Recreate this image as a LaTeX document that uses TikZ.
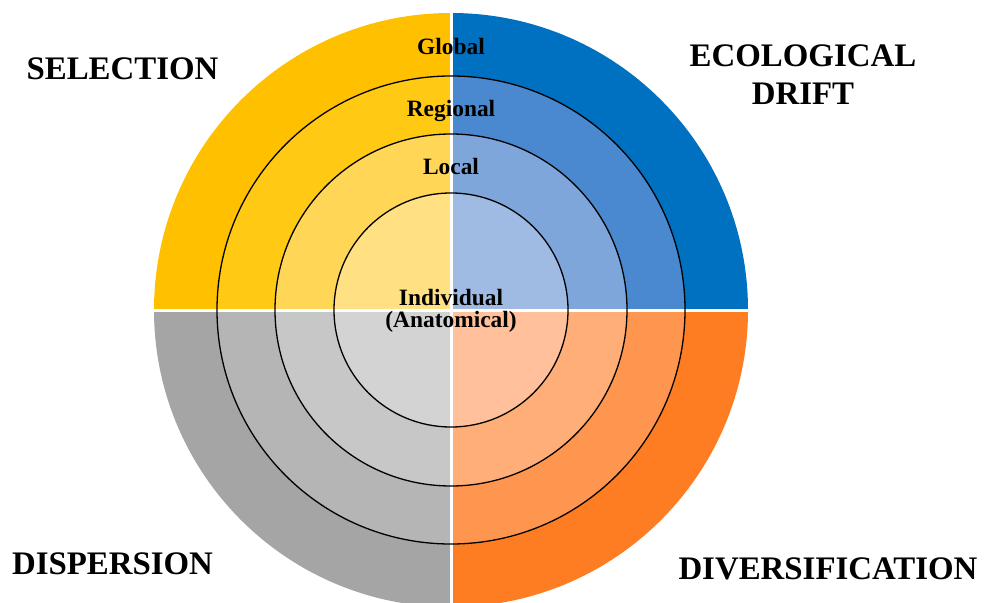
\documentclass[tikz,border=0pt]{standalone}
\usepackage{fontspec}
\setmainfont{Liberation Serif}
\usetikzlibrary{calc}
\definecolor{yA}{RGB}{255,192,0}
\definecolor{yB}{RGB}{255,201,20}
\definecolor{yC}{RGB}{255,214,85}
\definecolor{yD}{RGB}{255,224,130}
\definecolor{bA}{RGB}{0,112,192}
\definecolor{bB}{RGB}{74,137,208}
\definecolor{bC}{RGB}{127,166,218}
\definecolor{bD}{RGB}{159,187,227}
\definecolor{gA}{RGB}{165,165,165}
\definecolor{gB}{RGB}{181,181,181}
\definecolor{gC}{RGB}{199,199,199}
\definecolor{gD}{RGB}{211,211,211}
\definecolor{oA}{RGB}{255,125,34}
\definecolor{oB}{RGB}{255,150,80}
\definecolor{oC}{RGB}{255,174,120}
\definecolor{oD}{RGB}{255,192,155}
\tikzset{
  biglabel/.style={font=\fontsize{33}{38}\selectfont\bfseries, inner sep=0pt, anchor=base},
  scalelabel/.style={font=\fontsize{23.5}{26}\selectfont\bfseries, inner sep=0pt, anchor=base},
  ring/.style={draw=black, line width=1.3bp},
  divider/.style={draw=white, line width=3bp}
}
\begin{document}
\begin{tikzpicture}[x=1bp,y=-1bp]
\useasboundingbox (0,0) rectangle (984,603);
\clip (0,0) rectangle (984,603);
\coordinate (O) at (451,310);
% quadrant fills: TL 180-270, TR 270-360, BR 0-90, BL 90-180 (y axis points down)
\foreach \r/\k in {297/A,234/B,176/C,117/D}{
  \fill[y\k] (O) -- ++(180:\r) arc[start angle=180,end angle=270,radius=\r] -- cycle;
  \fill[b\k] (O) -- ++(270:\r) arc[start angle=270,end angle=360,radius=\r] -- cycle;
  \fill[o\k] (O) -- ++(0:\r) arc[start angle=0,end angle=90,radius=\r] -- cycle;
  \fill[g\k] (O) -- ++(90:\r) arc[start angle=90,end angle=180,radius=\r] -- cycle;
}
\coordinate (T) at ($(O)+(0,-297)$);
\coordinate (B) at ($(O)+(0,297)$);
\coordinate (L) at ($(O)+(-297,0)$);
\coordinate (R) at ($(O)+(297,0)$);
\draw[divider] (T) -- (B);
\draw[divider] (L) -- (R);
\draw[ring] (O) circle[radius=234];
\draw[ring] (O) circle[radius=176];
\draw[ring] (O) circle[radius=117];
% scale labels
\node[scalelabel] (global) at (451,55) {Global};
\node[scalelabel] (regional) at (451,117) {Regional};
\node[scalelabel] (local) at (451,175) {Local};
\node[scalelabel] (indiv) at (451,305) {Individual};
\node[scalelabel] (anat) at (451,327) {(Anatomical)};
% process labels
\node[biglabel] (sel) at (122.5,80) {SELECTION};
\node[biglabel] (eco) at (803,67) {ECOLOGICAL};
\node[biglabel] (drift) at (803,105) {DRIFT};
\node[biglabel] (disp) at (112.5,574) {DISPERSION};
\node[biglabel] (div) at (828,579) {DIVERSIFICATION};
\end{tikzpicture}
\end{document}
